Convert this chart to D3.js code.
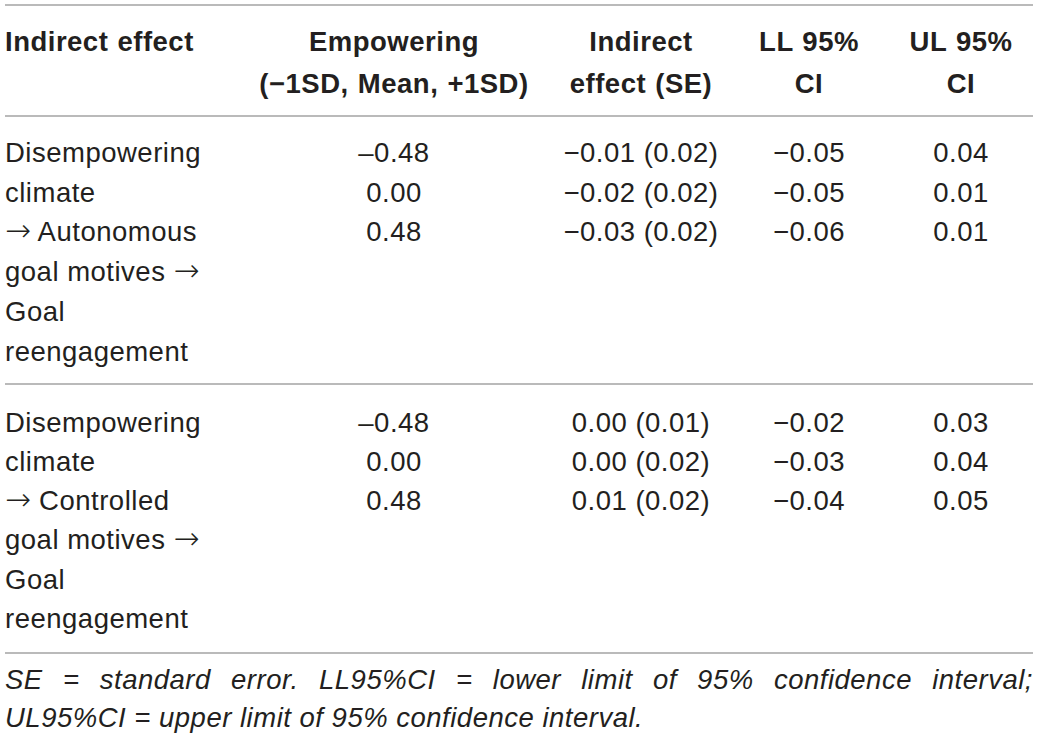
<!DOCTYPE html>
<html>
<head>
<meta charset="utf-8">
<script src="https://cdn.jsdelivr.net/npm/d3@7"></script>
<style>
  body { margin: 0; background: #fff; }
  text { font-family: "Liberation Sans", Arial, sans-serif; fill: #231f20; letter-spacing: 0.5px; }
  .arrow { font-family: "DejaVu Sans", sans-serif; font-weight: 200; letter-spacing: 0; }
</style>
</head>
<body>
<div id="table"></div>
<script>
// Table layout
const width = 1039;
const height = 739;
const margin = {left: 5, right: 6};
const fontSize = 27.5;

// Table data
const headers1 = ["Indirect effect", "Empowering", "Indirect", "LL 95%", "UL 95%"];
const headers2 = ["", "(\u22121SD, Mean, +1SD)", "effect (SE)", "CI", "CI"];

const pathLabels1 = ["Disempowering", "climate", "\u2192 Autonomous", "goal motives \u2192", "Goal", "reengagement"];
const pathLabels2 = ["Disempowering", "climate", "\u2192 Controlled", "goal motives \u2192", "Goal", "reengagement"];

const empowering = ["\u20130.48", "0.00", "0.48"];

const indirect1 = ["\u22120.01 (0.02)", "\u22120.02 (0.02)", "\u22120.03 (0.02)"];
const ll1 = ["\u22120.05", "\u22120.05", "\u22120.06"];
const ul1 = ["0.04", "0.01", "0.01"];

const indirect2 = ["0.00 (0.01)", "0.00 (0.02)", "0.01 (0.02)"];
const ll2 = ["\u22120.02", "\u22120.03", "\u22120.04"];
const ul2 = ["0.03", "0.04", "0.05"];

const footLine1 = "SE = standard error. LL95%CI = lower limit of 95% confidence interval;";
const footLine2 = "UL95%CI = upper limit of 95% confidence interval.";

const svg = d3.select("#table")
  .append("svg")
  .attr("width", width)
  .attr("height", height);

// column centres (first column is left aligned)
const colKeys = ["path", "emp", "ind", "ll", "ul"];
const xCol = d3.scaleOrdinal()
  .domain(colKeys)
  .range([margin.left, 394, 641, 809, 961]);

// row baselines inside a block
const yRow = d3.scaleLinear().domain([0, 5]);
const block1Y = yRow.copy().range([162, 360.5]);
const block2Y = yRow.copy().range([431.5, 628]);

// horizontal rules
const rules = [5, 116, 384, 653];
svg.selectAll(".rule")
  .data(rules)
  .enter()
  .append("line")
    .attr("class", "rule")
    .attr("x1", margin.left)
    .attr("x2", width - margin.right)
    .attr("y1", d => d)
    .attr("y2", d => d)
    .attr("stroke", "#a3a3a3")
    .attr("stroke-width", 1.6);

// header
const drawHeader = function(labels, y) {
  svg.selectAll(null)
    .data(labels)
    .enter()
    .append("text")
      .attr("x", (d, i) => xCol(colKeys[i]))
      .attr("y", y)
      .attr("text-anchor", (d, i) => i === 0 ? "start" : "middle")
      .attr("font-size", fontSize)
      .attr("font-weight", "bold")
      .attr("word-spacing", 1)
      .text(d => d);
};
drawHeader(headers1, 51);
drawHeader(headers2, 93);

// put arrows in their own tspan so they get a longer, thinner glyph
const writeLabel = function(sel) {
  sel.each(function(d) {
    const t = d3.select(this);
    d.split(/(\u2192)/).filter(s => s !== "").forEach(part => {
      t.append("tspan")
        .attr("class", part === "\u2192" ? "arrow" : null)
        .attr("font-size", part === "\u2192" ? 31 : null)
        .text(part);
    });
  });
};

// body blocks
const drawBlock = function(labels, cols, yScale) {
  svg.selectAll(null)
    .data(labels)
    .enter()
    .append("text")
      .attr("x", xCol("path"))
      .attr("y", (d, i) => yScale(i))
      .attr("font-size", fontSize)
      .call(writeLabel);

  cols.forEach((vals, c) => {
    svg.selectAll(null)
      .data(vals)
      .enter()
      .append("text")
        .attr("x", xCol(colKeys[c + 1]))
        .attr("y", (d, i) => yScale(i))
        .attr("text-anchor", "middle")
        .attr("font-size", fontSize)
        .text(d => d);
  });
};
drawBlock(pathLabels1, [empowering, indirect1, ll1, ul1], block1Y);
drawBlock(pathLabels2, [empowering, indirect2, ll2, ul2], block2Y);

// footnote, first line justified to the table width
const footG = svg.append("g")
  .attr("font-size", fontSize)
  .attr("font-style", "italic");

const words = footLine1.split(" ");
const wordNodes = footG.selectAll(".word")
  .data(words)
  .enter()
  .append("text")
    .attr("class", "word")
    .attr("y", 689)
    .text(d => d);

const widths = [];
wordNodes.each(function() { widths.push(this.getComputedTextLength()); });
const gap = ((width - margin.right) - margin.left - d3.sum(widths)) / (words.length - 1);
let xPos = margin.left;
wordNodes.attr("x", (d, i) => {
  const x = xPos;
  xPos += widths[i] + gap;
  return x;
});

footG.append("text")
  .attr("x", margin.left)
  .attr("y", 727)
  .text(footLine2);
</script>
</body>
</html>
